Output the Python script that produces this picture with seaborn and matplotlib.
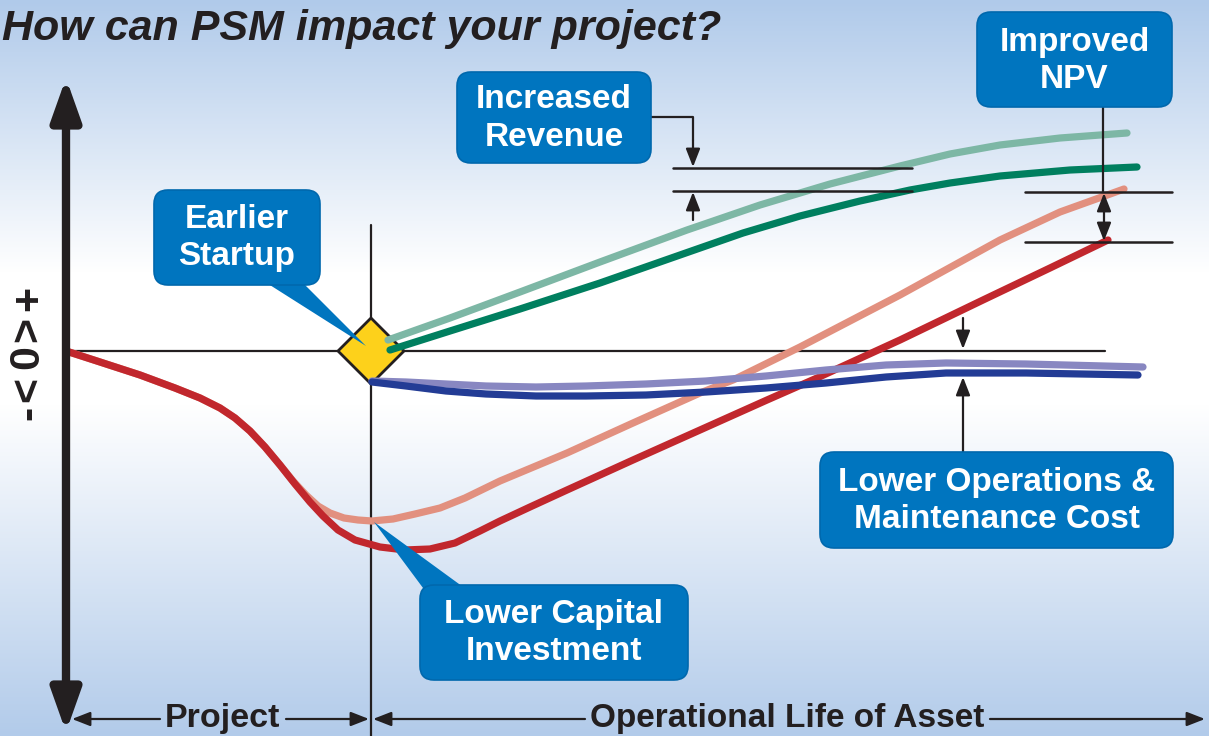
import numpy as np
import matplotlib.pyplot as plt
import seaborn as sns
from matplotlib.patches import FancyBboxPatch, Polygon

sns.set_style('white')
plt.rcParams['font.family'] = ['Liberation Sans', 'DejaVu Sans']

# 곡선 데이터 (x: 시간, y: 가치, 원점 = 프로젝트 시작)
npv_base_x = [0, 34, 74, 109, 134, 154, 169, 184, 199, 214, 229, 244, 257, 272, 289, 314, 339, 364, 389, 414, 434, 464, 501, 567, 634, 701, 751, 834, 917, 984, 1042]
npv_base_y = [0, -11, -24, -37, -47, -57, -67, -80, -96, -114, -133, -151, -165, -179, -189, -196, -199, -198, -192, -180, -170, -156, -139, -109, -79, -49, -27, 11, 51, 83, 111]

npv_psm_x = [0, 34, 74, 109, 134, 154, 169, 184, 199, 214, 227, 240, 252, 264, 278, 292, 306, 327, 349, 374, 399, 434, 501, 567, 634, 667, 734, 834, 934, 994, 1058]
npv_psm_y = [0, -11, -24, -37, -47, -57, -67, -80, -96, -114, -130, -144, -155, -162, -167, -169, -170, -168, -163, -157, -147, -130, -102, -72, -42, -29, 4, 56, 111, 139, 162]

rev_base_x = [324, 384, 454, 534, 614, 677, 734, 794, 844, 884, 934, 1004, 1071]
rev_base_y = [1, 20, 42, 68, 96, 118, 135, 150, 161, 168, 175, 181, 184]

rev_psm_x = [322, 384, 454, 534, 621, 694, 764, 834, 884, 934, 994, 1061]
rev_psm_y = [11, 33, 59, 89, 121, 146, 167, 185, 197, 206, 213, 218]

om_base_x = [306, 340, 380, 420, 470, 520, 580, 640, 700, 760, 820, 880, 960, 1072]
om_base_y = [-31, -35, -40, -43, -45, -45, -44, -41, -37, -32, -26, -22, -22, -24]

om_psm_x = [306, 340, 380, 420, 470, 520, 580, 640, 700, 760, 820, 880, 960, 1077]
om_psm_y = [-30, -31, -33, -35, -36, -35, -33, -30, -25, -19, -14, -12, -13, -16]

# 배경 그라데이션 색 (위 -> 중간 -> 아래)
bg_stops = [0.0, 0.37, 0.55, 1.0]
bg_colors = np.array([[176, 202, 234], [255, 255, 255], [255, 255, 255], [178, 203, 234]]) / 255

fig = plt.figure(figsize=(12.09, 7.36), dpi=100)
ax = fig.add_axes([0, 0, 1, 1])
X0, Y0 = 66, 351
ax.set_xlim(-X0, 1209 - X0)
ax.set_ylim(Y0 - 736, Y0)
ax.axis('off')


def P(px, py):
    # 그림 픽셀 -> 데이터 좌표
    return px - X0, Y0 - py


t = np.linspace(0, 1, 736)
grad = np.stack([np.interp(t, bg_stops, bg_colors[:, i]) for i in range(3)], axis=1)
grad = np.repeat(grad[:, None, :], 2, axis=1)
ax.imshow(grad, extent=[-X0, 1209 - X0, Y0 - 736, Y0], aspect='auto', zorder=0)

ink = '#231F20'
box_c = '#0075BF'

# 기준선
ax.plot([0, 1105 - X0], [0, 0], color=ink, lw=1.6, zorder=2)
ax.plot([305, 305], [P(0, 225)[1], Y0 - 736], color=ink, lw=1.6, zorder=2)

# 곡선
curves = [
    (npv_psm_x, npv_psm_y, '#E2907F'),
    (npv_base_x, npv_base_y, '#C1272D'),
    (rev_psm_x, rev_psm_y, '#7DB7A5'),
    (rev_base_x, rev_base_y, '#007F5F'),
    (om_psm_x, om_psm_y, '#8887C1'),
    (om_base_x, om_base_y, '#233C95'),
]
for xs, ys, c in curves:
    sns.lineplot(x=xs, y=ys, ax=ax, color=c, linewidth=5.2, sort=False,
                 solid_capstyle='round', solid_joinstyle='round', zorder=4)

# 다이아몬드 (조기 가동)
d = 33
ax.add_patch(Polygon([(305 - d, 0), (305, d), (305 + d, 0), (305, -d)], closed=True,
                     facecolor='#FDD11B', edgecolor=ink, lw=2, zorder=3))

# 세로축 화살표
ax.annotate('', xy=P(66, 78), xytext=P(66, 732),
            arrowprops=dict(arrowstyle='<|-|>,head_width=0.64,head_length=1.8',
                            lw=6, color=ink, mutation_scale=14, shrinkA=0, shrinkB=0), zorder=5)
for ch, cx, cy in [('+', 29, 298), ('>', 29, 329), ('0', 27, 357), ('<', 29, 389), ('-', 29, 413)]:
    ax.text(*P(cx, cy), ch, rotation=90, ha='center', va='center',
            fontsize=31, fontweight='bold', color=ink)

# 제목
ax.text(*P(2, 29), 'How can PSM impact your project?', ha='left', va='center',
        fontsize=31, fontweight='bold', fontstyle='italic', color=ink)


def box(x1, y1, x2, y2, label):
    a = P(x1, y2)
    ax.add_patch(FancyBboxPatch(a, x2 - x1, y2 - y1, boxstyle='round,pad=0,rounding_size=14',
                                facecolor=box_c, edgecolor='#0068AD', lw=1.2, zorder=6))
    ax.text(*P((x1 + x2) / 2, (y1 + y2) / 2 + 1), label, ha='center', va='center',
            fontsize=24, fontweight='bold', color='white', linespacing=1.25, zorder=7)


small = 'head_width=0.43,head_length=1.1'


def arrow(x1, y1, x2, y2, lw=1.6):
    ax.annotate('', xy=P(x2, y2), xytext=P(x1, y1),
                arrowprops=dict(arrowstyle='-|>,' + small, lw=lw,
                                color=ink, mutation_scale=10, shrinkA=0, shrinkB=0), zorder=5)


def hline(x1, x2, y):
    ax.plot([P(x1, y)[0], P(x2, y)[0]], [P(x1, y)[1]] * 2, color=ink, lw=1.8, zorder=5)


# 포인터
ax.add_patch(Polygon([P(262, 280), P(300, 280), P(366, 346)], closed=True,
                     facecolor=box_c, edgecolor='none', zorder=5))
ax.add_patch(Polygon([P(426, 592), P(470, 592), P(374, 522)], closed=True,
                     facecolor=box_c, edgecolor='none', zorder=5))

box(154, 190, 320, 285, 'Earlier\nStartup')
box(457, 72, 651, 163, 'Increased\nRevenue')
box(977, 12, 1172, 107, 'Improved\nNPV')
box(420, 585, 688, 680, 'Lower Capital\nInvestment')
box(820, 452, 1173, 548, 'Lower Operations &\nMaintenance Cost')

# 매출 증가 표시
ax.plot([P(651, 117)[0], P(693, 117)[0], P(693, 140)[0]],
        [P(651, 117)[1], P(693, 117)[1], P(693, 140)[1]], color=ink, lw=1.6, zorder=5)
arrow(693, 140, 693, 167)
hline(673, 912, 168)
hline(673, 912, 191)
arrow(693, 220, 693, 192)

# NPV 개선 표시
ax.plot([P(1103, 107)[0], P(1103, 192)[0]], [P(1103, 107)[1], P(1103, 192)[1]],
        color=ink, lw=1.6, zorder=5)
hline(1025, 1172, 192)
hline(1025, 1172, 242)
ax.annotate('', xy=P(1104, 193), xytext=P(1104, 241),
            arrowprops=dict(arrowstyle='<|-|>,' + small, lw=1.6,
                            color=ink, mutation_scale=10, shrinkA=0, shrinkB=0), zorder=5)

# 운영비 절감 표시
arrow(963, 318, 963, 349)
arrow(963, 452, 963, 377)

# 하단 구간 표시
by = 719
ax.text(*P(222, by), 'Project', ha='center', va='center', fontsize=24.5, fontweight='bold',
        color=ink, zorder=6)
arrow(160, by, 72, by)
arrow(286, by, 369, by)
ax.text(*P(787, by), 'Operational Life of Asset', ha='center', va='center', fontsize=24,
        fontweight='bold', color=ink, zorder=6)
arrow(585, by, 373, by)
arrow(990, by, 1205, by)

plt.savefig('out.png', dpi=100)
